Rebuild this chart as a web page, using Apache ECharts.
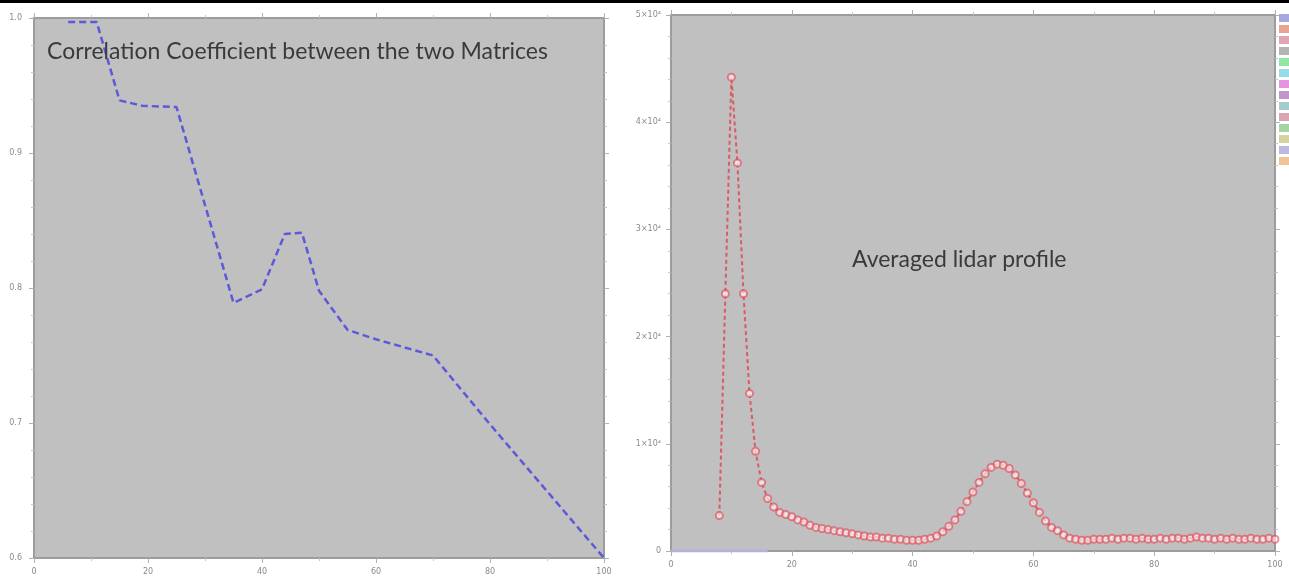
<!DOCTYPE html>
<html>
<head>
<meta charset="utf-8">
<title>Correlation and lidar profile</title>
<script src="https://cdn.jsdelivr.net/npm/echarts@6/dist/echarts.min.js"></script>
<style>
  html, body { margin: 0; padding: 0; background: #ffffff; }
  #chart { width: 1289px; height: 586px; }
</style>
</head>
<body>
<div id="chart"></div>
<script>
// Correlation coefficient between the two matrices, by shift
const corrX = [6, 11, 15, 19, 25, 35, 40, 44, 47, 50, 55, 60, 70, 80, 100];
const corrY = [0.997, 0.997, 0.939, 0.935, 0.934, 0.789, 0.799, 0.840, 0.841, 0.798, 0.769, 0.762, 0.750, 0.699, 0.600];

// Averaged lidar profile (x10^4)
const lidarX = [
  8, 9, 10, 11, 12, 13, 14, 15, 16, 17, 18, 19, 20, 21, 22, 23, 24, 25, 26, 27,
  28, 29, 30, 31, 32, 33, 34, 35, 36, 37, 38, 39, 40, 41, 42, 43, 44, 45, 46, 47,
  48, 49, 50, 51, 52, 53, 54, 55, 56, 57, 58, 59, 60, 61, 62, 63, 64, 65, 66, 67,
  68, 69, 70, 71, 72, 73, 74, 75, 76, 77, 78, 79, 80, 81, 82, 83, 84, 85, 86, 87,
  88, 89, 90, 91, 92, 93, 94, 95, 96, 97, 98, 99, 100
];
const lidarY = [
  0.33, 2.40, 4.42, 3.62, 2.40, 1.47, 0.93, 0.64, 0.49, 0.41, 0.36, 0.34, 0.32, 0.29, 0.27, 0.24, 0.22, 0.21, 0.20, 0.19,
  0.18, 0.17, 0.16, 0.15, 0.14, 0.13, 0.13, 0.12, 0.12, 0.11, 0.11, 0.10, 0.10, 0.10, 0.11, 0.12, 0.14, 0.18, 0.23, 0.29,
  0.37, 0.46, 0.55, 0.64, 0.72, 0.78, 0.81, 0.80, 0.77, 0.71, 0.63, 0.54, 0.45, 0.36, 0.28, 0.22, 0.19, 0.15, 0.12, 0.11,
  0.10, 0.10, 0.11, 0.11, 0.11, 0.12, 0.11, 0.12, 0.12, 0.11, 0.12, 0.11, 0.11, 0.12, 0.11, 0.12, 0.12, 0.11, 0.12, 0.13,
  0.12, 0.12, 0.11, 0.12, 0.11, 0.12, 0.11, 0.11, 0.12, 0.11, 0.11, 0.12, 0.11
];

// Baseline trace along zero near the origin
const baseX = [0, 4, 8, 12, 16];
const baseY = [0, 0, 0, 0, 0];

const xTicks = [0, 20, 40, 60, 80, 100];
const corrTicks = [0.6, 0.7, 0.8, 0.9, 1.0];
const lidarTicks = [0, 1, 2, 3, 4, 5];

// Swatches of the legend clipped at the right edge
const legendColors = ['#a8a8e0', '#e8a393', '#e0a6b6', '#b4b4b4', '#94e4a4', '#94dde6', '#e694e0',
  '#c096cc', '#a4cccc', '#daa6b6', '#a4d4a4', '#d4d4a0', '#babae0', '#f0c496'];

const plotBg = '#c0c0c0';
const axisGray = '#9c9c9c';
const labelGray = '#8a8a8a';

function axisBase(extra) {
  return Object.assign({
    type: 'value',
    axisLine: { show: true, onZero: false, lineStyle: { color: axisGray, width: 2 } },
    axisTick: { show: true, length: 5, lineStyle: { color: '#b0b0b0' } },
    minorTick: { show: true, length: 3, lineStyle: { color: '#c4c4c4' } },
    splitLine: { show: false },
    axisLabel: { color: labelGray, fontSize: 8, fontFamily: 'DejaVu Sans' }
  }, extra);
}

const chart = echarts.init(document.getElementById('chart'), null, { renderer: 'canvas' });

const lidarFmt = v => v === 0 ? '0' : v + '×10⁴';

chart.setOption({
  animation: false,
  backgroundColor: '#ffffff',
  title: [
    {
      text: 'Correlation Coefficient between the two Matrices',
      left: 47, top: 40, padding: 0,
      textStyle: { color: '#3a3a3a', fontSize: 23, fontWeight: 'normal', fontFamily: 'Lato' }
    },
    {
      text: 'Averaged lidar profile',
      left: 852, top: 248, padding: 0,
      textStyle: { color: '#3a3a3a', fontSize: 23, fontWeight: 'normal', fontFamily: 'Lato' }
    }
  ],
  grid: [
    { left: 34, top: 18, width: 570, height: 540, show: true, backgroundColor: plotBg, borderWidth: 0 },
    { left: 671, top: 15, width: 604, height: 536, show: true, backgroundColor: plotBg, borderWidth: 0 }
  ],
  xAxis: [
    axisBase({ gridIndex: 0, position: 'bottom', min: 0, max: 100, interval: 20,
      minorTick: { show: true, splitNumber: 2, length: 3, lineStyle: { color: '#c4c4c4' } },
      axisLabel: { color: labelGray, fontSize: 8, fontFamily: 'DejaVu Sans', margin: 10,
        customValues: xTicks } }),
    axisBase({ gridIndex: 0, position: 'top', min: 0, max: 100, interval: 20,
      minorTick: { show: true, splitNumber: 2, length: 3, lineStyle: { color: '#c4c4c4' } },
      axisLabel: { show: false } }),
    axisBase({ gridIndex: 1, position: 'bottom', min: 0, max: 100, interval: 20,
      minorTick: { show: true, splitNumber: 2, length: 3, lineStyle: { color: '#c4c4c4' } },
      axisLabel: { color: labelGray, fontSize: 8, fontFamily: 'DejaVu Sans', margin: 10,
        customValues: xTicks } }),
    axisBase({ gridIndex: 1, position: 'top', min: 0, max: 100, interval: 20,
      minorTick: { show: true, splitNumber: 2, length: 3, lineStyle: { color: '#c4c4c4' } },
      axisLabel: { show: false } })
  ],
  yAxis: [
    axisBase({ gridIndex: 0, position: 'left', min: 0.6, max: 1.0, interval: 0.1,
      minorTick: { show: true, splitNumber: 5, length: 3, lineStyle: { color: '#c4c4c4' } },
      axisLabel: { color: labelGray, fontSize: 8, fontFamily: 'DejaVu Sans', margin: 12,
        customValues: corrTicks, formatter: v => v.toFixed(1) } }),
    axisBase({ gridIndex: 0, position: 'right', min: 0.6, max: 1.0, interval: 0.1,
      minorTick: { show: true, splitNumber: 5, length: 3, lineStyle: { color: '#c4c4c4' } },
      axisLabel: { show: false } }),
    axisBase({ gridIndex: 1, position: 'left', min: 0, max: 5, interval: 1,
      minorTick: { show: true, splitNumber: 5, length: 3, lineStyle: { color: '#c4c4c4' } },
      axisLabel: { color: labelGray, fontSize: 8, fontFamily: 'DejaVu Sans', margin: 10,
        customValues: lidarTicks, formatter: lidarFmt } }),
    axisBase({ gridIndex: 1, position: 'right', min: 0, max: 5, interval: 1,
      minorTick: { show: true, splitNumber: 5, length: 3, lineStyle: { color: '#c4c4c4' } },
      axisLabel: { show: false } })
  ],
  series: [
    {
      name: 'Correlation',
      type: 'line',
      xAxisIndex: 0, yAxisIndex: 0,
      data: corrX.map((x, i) => [x, corrY[i]]),
      showSymbol: false,
      lineStyle: { color: '#4a46de', width: 2.5, type: [7, 4], opacity: 0.85 },
      clip: false
    },
    {
      name: 'Baseline',
      type: 'line',
      xAxisIndex: 2, yAxisIndex: 2,
      data: baseX.map((x, i) => [x, baseY[i]]),
      showSymbol: false,
      lineStyle: { color: '#b4b2dc', width: 3 }
    },
    {
      name: 'Lidar',
      type: 'line',
      xAxisIndex: 2, yAxisIndex: 2,
      data: lidarX.map((x, i) => [x, lidarY[i]]),
      symbol: 'emptyCircle',
      symbolSize: 7,
      itemStyle: { color: '#e2404e', borderWidth: 1.5, opacity: 0.6 },
      lineStyle: { color: '#e2404e', width: 2, type: [4, 3], opacity: 0.8 }
    }
  ],
  graphic: [
    { type: 'rect', left: 0, top: 0, shape: { width: 1289, height: 3 }, style: { fill: '#000000' } }
  ].concat(legendColors.map((c, i) => ({
    type: 'rect',
    left: 1279,
    top: 14 + i * 11,
    shape: { width: 10, height: 8 },
    style: { fill: c }
  })))
});
</script>
</body>
</html>
